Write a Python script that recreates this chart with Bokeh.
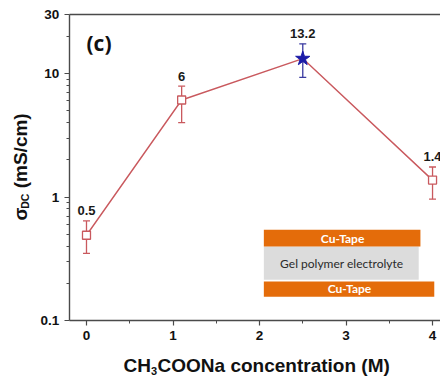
from bokeh.plotting import figure
from bokeh.models import (Range1d, FixedTicker, LinearAxis, LogAxis, Label, ColumnDataSource)
from bokeh.embed import file_html
from bokeh.resources import INLINE
from bokeh.core.properties import value
import math

# ---- data ----
conc = [0.0, 1.1, 2.5, 4.0]                # CH3COONa concentration (M)
sigma = [0.49, 6.1, 13.2, 1.37]            # sigma_DC (mS/cm)
err_low = [0.35, 4.0, 9.3, 0.96]
err_high = [0.64, 7.9, 17.4, 1.75]
point_labels = ["0.5", "6", "13.2", "1.4"]

x_ticks = [0, 1, 2, 3, 4]
x_minor = [0.5, 1.5, 2.5, 3.5]
y_ticks = [0.1, 1, 10, 30]
y_tick_labels = ["0.1", "1", "10", "30"]
y_minor = [0.2, 0.3, 0.4, 0.5, 0.6, 0.7, 0.8, 0.9, 2, 3, 4, 5, 6, 7, 8, 9, 20]

RED = "#c9595e"
BLUE = "#1c1ca8"
BLUE_ERR = "#3a3aa0"
AXIS = "#4a4a4a"
ORANGE = "#e46c0a"
GRAY = "#dcdcdc"

W, H = 440, 379
# the plot frame fills the canvas; the axes sit at fixed locations inside it
p = figure(width=W, height=H, output_backend="svg", toolbar_location=None,
           y_axis_type="log", x_range=Range1d(-0.994, 4.092), y_range=Range1d(0.0333, 39.0),
           min_border_left=0, min_border_right=0, min_border_top=0, min_border_bottom=0,
           x_axis_location=None, y_axis_location=None)
p.outline_line_color = None
p.grid.visible = False
p.background_fill_color = "white"
p.border_fill_color = "white"

xax = LinearAxis(fixed_location=0.1, bounds=(-0.2, 4.09),
                 ticker=FixedTicker(ticks=x_ticks, minor_ticks=x_minor))
yax = LogAxis(fixed_location=-0.2, bounds=(0.1, 30),
              ticker=FixedTicker(ticks=y_ticks, minor_ticks=y_minor))
yax.major_label_overrides = {t: s for t, s in zip(y_ticks, y_tick_labels)}
for ax in (xax, yax):
    ax.axis_line_color = AXIS
    ax.axis_line_width = 1.4
    ax.major_tick_line_color = AXIS
    ax.minor_tick_line_color = AXIS
    ax.major_tick_line_width = 1.2
    ax.minor_tick_line_width = 1.0
    ax.major_tick_out = 5
    ax.major_tick_in = 0
    ax.minor_tick_out = 3
    ax.minor_tick_in = 0
    ax.major_label_standoff = 5
    ax.major_label_text_font = "Liberation Sans"
    ax.major_label_text_font_style = "bold"
    ax.major_label_text_font_size = "13.5px"
    ax.major_label_text_color = "#111111"
p.add_layout(xax, "below")
p.add_layout(yax, "left")

top = LinearAxis(fixed_location=30, bounds=(-0.2, 4.09), ticker=FixedTicker(ticks=[]),
                 axis_line_color=AXIS, axis_line_width=1.4,
                 major_label_text_font_size="0px", major_tick_out=0, major_tick_in=0,
                 minor_tick_out=0, minor_tick_in=0)
p.add_layout(top, "above")

# inset schematic (decoration)
p.quad(left=[2.05], right=[3.84], top=[0.397], bottom=[0.2136], fill_color=GRAY, line_color=None)
p.quad(left=[2.05], right=[3.86], top=[0.542], bottom=[0.397], fill_color=ORANGE, line_color=None)
p.quad(left=[2.05], right=[4.02], top=[0.207], bottom=[0.156], fill_color=ORANGE, line_color=None)
p.text(x=[2.96], y=[0.4637], text=["Cu-Tape"], text_align="center", text_baseline="middle",
       text_color="white", text_font=value("Lato"), text_font_size="12px", text_font_style="bold")
p.text(x=[2.95], y=[0.292], text=["Gel polymer electrolyte"], text_align="center", text_baseline="middle",
       text_color="#2a2a2a", text_font=value("Lato"), text_font_size="12px")
p.text(x=[3.04], y=[0.180], text=["Cu-Tape"], text_align="center", text_baseline="middle",
       text_color="white", text_font=value("Lato"), text_font_size="12px", text_font_style="bold")

# data
peak = max(range(len(sigma)), key=lambda i: sigma[i])
colors = [BLUE_ERR if i == peak else RED for i in range(len(sigma))]
src = ColumnDataSource(dict(x=conc, y=sigma, lo=err_low, hi=err_high, c=colors, lab=point_labels))

p.line(conc, sigma, line_color=RED, line_width=1.4)
p.segment(x0="x", y0="lo", x1="x", y1="hi", line_color="c", line_width=1.3, source=src)
p.scatter(x="x", y="lo", marker="dash", size=7, line_color="c", line_width=1.3, source=src)
p.scatter(x="x", y="hi", marker="dash", size=7, line_color="c", line_width=1.3, source=src)

sq_x = [conc[i] for i in range(len(conc)) if i != peak]
sq_y = [sigma[i] for i in range(len(sigma)) if i != peak]
p.scatter(sq_x, sq_y, marker="square", size=8, fill_color="white", line_color=RED, line_width=1.3)
p.scatter([conc[peak]], [sigma[peak]], marker="star", size=15, fill_color=BLUE, line_color=BLUE)

p.text(x="x", y="hi", text="lab", source=src, text_align="center", text_baseline="alphabetic",
       y_offset=-10, text_font=value("Liberation Sans"), text_font_style="bold",
       text_font_size="13px", text_color="#1a1a1a")

def lbl(x, y, t, size, angle=0, font="Liberation Sans", baseline="alphabetic"):
    # x, y: canvas pixels from the top-left corner
    p.add_layout(Label(x=x, y=H - y, x_units="screen", y_units="screen", text=t, angle=angle,
                       text_font=font, text_font_style="bold",
                       text_font_size=f"{size}px", text_baseline=baseline,
                       text_align="left", text_color="#111111"))

# panel label
lbl(86, 42, "(c)", 21, font="Open Sans", baseline="middle")

# x-axis title: CH3COONa concentration (M)
F = 19
x0 = 123
lbl(x0, 365, "CH", F)
x1 = x0 + 1.444 * F
lbl(x1, 370, "3", 11)
x2 = x1 + 0.556 * 11 + 0.5
lbl(x2, 365, "COONa concentration (M)", F)

# y-axis title: sigma_DC (mS/cm), rotated
bx = 20
yb = 220
lbl(bx, yb, "σ", F, angle=math.pi / 2)
y1 = yb - 0.62 * F
lbl(bx + 4, y1, "DC", 10.5, angle=math.pi / 2)
y2 = y1 - 1.444 * 10.5 - 0.278 * F
lbl(bx, y2, "(mS/cm)", F, angle=math.pi / 2)

open("out.html", "w").write(file_html(p, INLINE))
